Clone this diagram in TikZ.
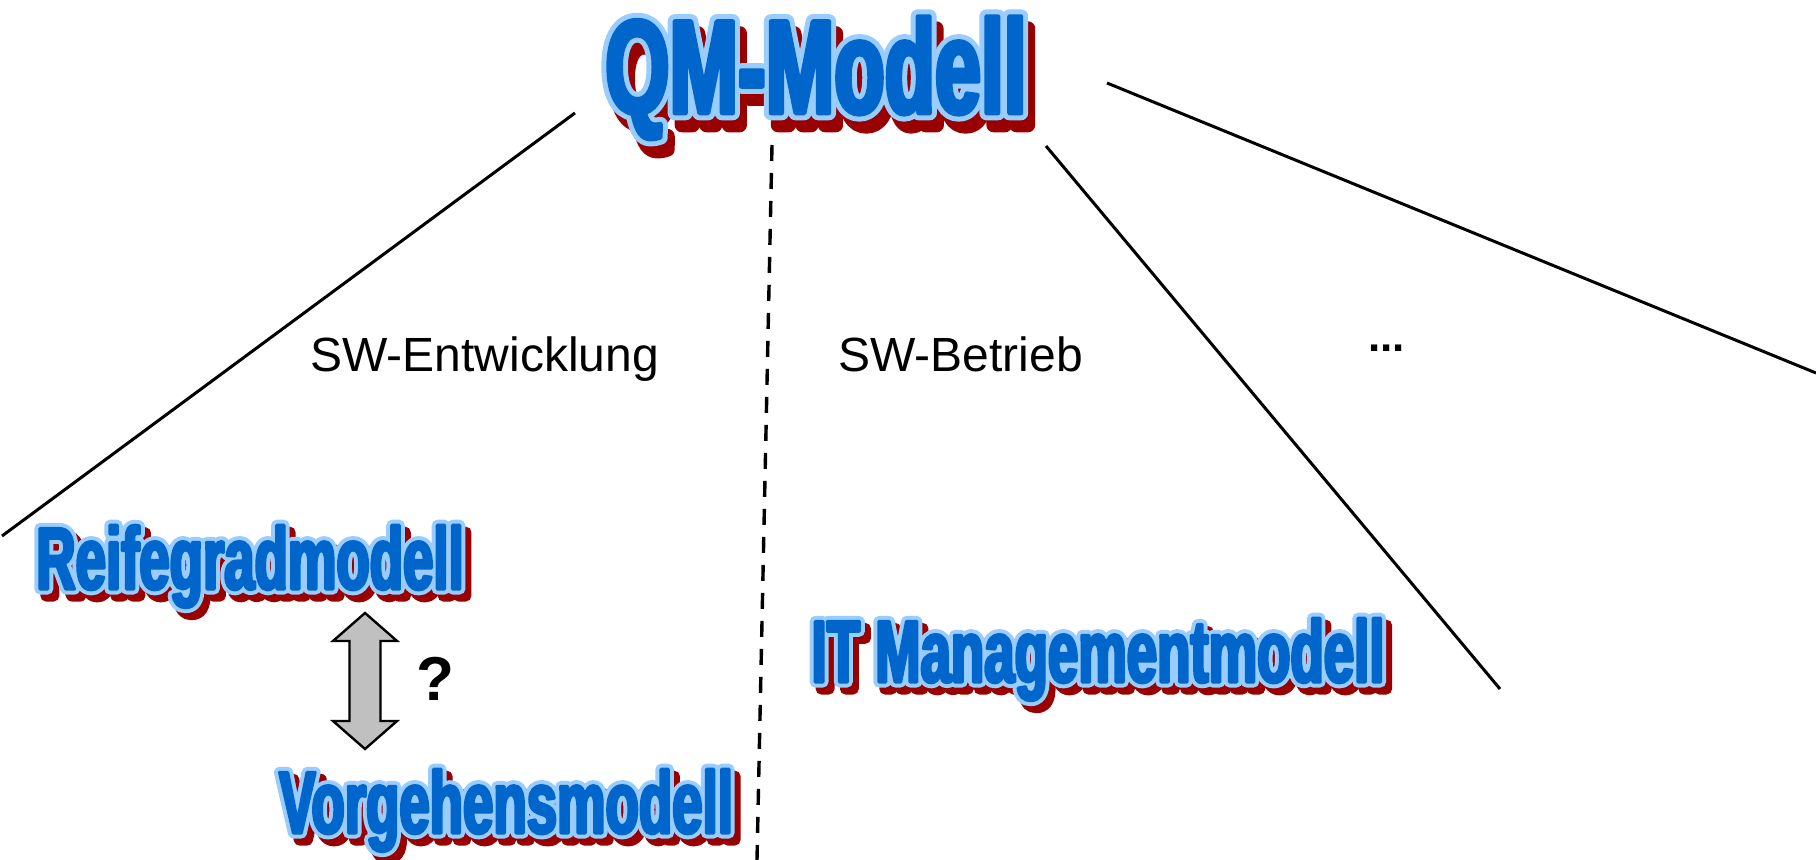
\documentclass[tikz,border=0pt]{standalone}
\usepackage{fontspec}
\setmainfont{Liberation Sans}
\newfontfamily\waFill{Liberation Sans Bold}[FakeStretch=0.62, FakeBold=3.5]
\newfontfamily\waRimS{Liberation Sans Bold}[FakeStretch=0.62, FakeBold=12.5]
\newfontfamily\waRimL{Liberation Sans Bold}[FakeStretch=0.62, FakeBold=11]
\usetikzlibrary{calc}
\definecolor{waBlue}{RGB}{0,102,204}
\definecolor{waLight}{RGB}{153,204,255}
\definecolor{waShadow}{RGB}{153,0,0}
\definecolor{arrowGray}{RGB}{192,192,192}
\tikzset{
  wa/.style={anchor=base, inner sep=0pt, outer sep=0pt},
  plain/.style={anchor=base west, inner sep=0pt, font=\fontsize{24}{28}\selectfont},
  branch/.style={line width=1.5pt, black},
  divider/.style={line width=1.7pt, black, dash pattern=on 8pt off 6pt},
  blockarrow/.style={fill=arrowGray, draw=black, line width=1.2pt, line join=miter}
}
% #1 name, #2 position, #3 font size (pt), #4 rim font, #5 shadow offset, #6 text
\newcommand\wordartnode[6]{%
  \begin{scope}[line join=round, line cap=round]
  \node[wa, text=waShadow] at ($(#2)+(#5)$) {#4\fontsize{#3}{#3}\selectfont #6};
  \node[wa, text=waLight] at (#2) {#4\fontsize{#3}{#3}\selectfont #6};
  \node[wa, text=waBlue] (#1) at (#2) {\waFill\fontsize{#3}{#3}\selectfont #6};
  \end{scope}
}
\begin{document}
\begin{tikzpicture}[x=0.5pt, y=-0.5pt]
  \useasboundingbox[fill=white] (0,0) rectangle (1816,860);

  % branch lines
  \coordinate (l1a) at (575,113);
  \coordinate (l1b) at (2,536);
  \coordinate (dva) at (772,145);
  \coordinate (dvb) at (757,860);
  \coordinate (l3a) at (1046,146);
  \coordinate (l3b) at (1500,689);
  \coordinate (l4a) at (1107,83);
  \coordinate (l4b) at (1816,373);
  \draw[branch] (l1a) -- (l1b);
  \draw[divider] (dva) -- (dvb);
  \draw[branch] (l3a) -- (l3b);
  \draw[branch] (l4a) -- (l4b);

  % WordArt titles
  \wordartnode{qm}{816,113}{66.5}{\waRimL}{7,12}{QM-Modell}
  \wordartnode{reife}{250,589}{44}{\waRimS}{6,7}{Reifegradmodell}
  \wordartnode{vorg}{506,833}{44}{\waRimS}{6,7}{Vorgehensmodell}
  \wordartnode{itm}{1098,682}{44}{\waRimS}{6,7}{IT Managementmodell}

  % plain labels
  \node[plain] (swe) at (310,372) {SW-Entwicklung};
  \node[plain] (swb) at (838,372) {SW-Betrieb};
  \node[plain, font=\fontsize{22}{26}\selectfont\bfseries] (dots) at (1368,352) {...};
  \node[plain, font=\fontsize{31}{36}\selectfont\bfseries] (q) at (416,701) {?};

  % double block arrow
  \draw[blockarrow] (365,613) -- (397,641) -- (380.5,641) -- (380.5,721) -- (397,721)
     -- (365,749) -- (333,721) -- (349.5,721) -- (349.5,641) -- (333,641) -- cycle;
\end{tikzpicture}
\end{document}
